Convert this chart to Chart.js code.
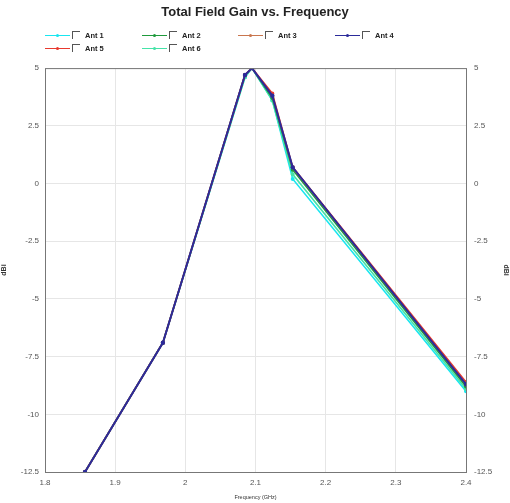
<!DOCTYPE html>
<html>
<head>
<meta charset="utf-8">
<script src="https://cdn.jsdelivr.net/npm/chart.js@4"></script>
<style>
  html, body { margin: 0; padding: 0; background: #fff; }
  #wrap { position: relative; width: 510px; height: 503px; }
  #chart { position: absolute; left: 0; top: 0; }
  .leg { position: absolute; height: 10px; font: bold 7.5px "Liberation Sans", Arial, sans-serif; color: #222; }
  .leg .ln { position: absolute; left: 0; top: 4px; width: 25px; height: 1px; }
  .leg .dot { position: absolute; left: 11px; top: 3px; width: 3px; height: 3px; border-radius: 50%; }
  .leg .box { position: absolute; left: 27px; top: 0px; width: 7px; height: 7px; border-left: 1px solid #555; border-top: 1px solid #555; }
  .leg .tx { position: absolute; left: 40px; top: 0px; white-space: nowrap; }
</style>
</head>
<body>
<div id="wrap">
  <canvas id="chart" width="510" height="503"></canvas>
  <div id="legend"></div>
</div>
<script>
// frequencies (GHz) at which the gain was sampled
const freqs = [1.857, 1.968, 2.085, 2.095, 2.124, 2.153, 2.4];

// total field gain per antenna (dBi)
const ant1 = [-12.5, -6.9, 4.6, 5.0, 3.6, 0.2, -9.0];
const ant2 = [-12.5, -6.9, 4.7, 5.0, 3.7, 0.6, -8.8];
const ant3 = [-12.5, -6.9, 4.7, 5.0, 3.8, 0.7, -8.7];
const ant4 = [-12.5, -6.9, 4.7, 5.0, 3.8, 0.7, -8.7];
const ant5 = [-12.5, -6.9, 4.7, 5.0, 3.9, 0.7, -8.6];
const ant6 = [-12.5, -6.9, 4.6, 5.0, 3.6, 0.4, -8.9];

const names = ['Ant 1', 'Ant 2', 'Ant 3', 'Ant 4', 'Ant 5', 'Ant 6'];
const colors = ['#19e6f0', '#1f9a3c', '#c9764e', '#2b2b9a', '#e8392e', '#45e3a8'];
const drawOrder = [5, 3, 2, 0, 1, 4]; // lower = drawn on top

const xTicks = ['1.8', '1.9', '2', '2.1', '2.2', '2.3', '2.4'];
const yTicks = ['5', '2.5', '0', '-2.5', '-5', '-7.5', '-10', '-12.5'];

const series = [ant1, ant2, ant3, ant4, ant5, ant6];

// html legend, laid out in fixed columns like the original
const legend = document.getElementById('legend');
const cols = [45, 142, 238, 335];
names.forEach((n, i) => {
    const d = document.createElement('div');
    d.className = 'leg';
    d.style.left = cols[i % 4] + 'px';
    d.style.top = (i < 4 ? 31 : 44) + 'px';
    d.innerHTML = `<span class="ln" style="background:${colors[i]}"></span>` +
        `<span class="dot" style="background:${colors[i]}"></span>` +
        `<span class="box"></span><span class="tx">${n}</span>`;
    legend.appendChild(d);
});

const frame = {
    id: 'frame',
    afterDraw(chart) {
        const { ctx, chartArea: a } = chart;
        ctx.save();
        ctx.strokeStyle = '#777';
        ctx.lineWidth = 1;
        ctx.strokeRect(a.left + 0.5, a.top + 0.5, a.right - a.left, a.bottom - a.top);
        ctx.restore();
    }
};

const tickFont = { family: 'Liberation Sans, Arial, sans-serif', size: 8 };
const titleFont = { family: 'Liberation Sans, Arial, sans-serif', size: 7, weight: 'bold' };

new Chart(document.getElementById('chart'), {
    type: 'line',
    data: {
        datasets: series.map((s, i) => ({
            label: names[i],
            data: s.map((v, j) => ({ x: freqs[j], y: v })),
            borderColor: colors[i],
            backgroundColor: colors[i],
            borderWidth: i === 3 ? 2 : 1.6,
            pointRadius: 1.2,
            pointHoverRadius: 1.2,
            order: drawOrder[i],
            tension: 0
        }))
    },
    options: {
        responsive: false,
        animation: false,
        layout: { padding: { left: 0, right: 0, top: 0, bottom: 0 } },
        plugins: {
            legend: { display: false },
            tooltip: { enabled: false },
            title: {
                display: true,
                text: 'Total Field Gain vs. Frequency',
                color: '#222',
                font: { family: 'Liberation Sans, Arial, sans-serif', size: 13, weight: 'bold' },
                padding: { top: 5, bottom: 47.5 }
            }
        },
        scales: {
            x: {
                type: 'linear',
                min: 1.8, max: 2.4,
                afterBuildTicks: s => { s.ticks = xTicks.map(t => ({ value: parseFloat(t) })); },
                ticks: { font: tickFont, color: '#555', padding: 6, maxRotation: 0,
                         callback: (v, i) => xTicks[i] },
                grid: { color: '#e6e6e6', drawTicks: false },
                border: { display: false },
                title: { display: true, text: 'Frequency (GHz)', font: { family: 'Liberation Sans, Arial, sans-serif', size: 5.5 }, color: '#333', padding: { top: 0, bottom: 2 } },
                afterFit: s => { s.height = 31; }
            },
            y: {
                position: 'left',
                min: -12.5, max: 5,
                afterBuildTicks: s => { s.ticks = yTicks.map(t => ({ value: parseFloat(t) })); },
                ticks: { font: tickFont, color: '#555', padding: 6, callback: (v, i) => yTicks[i] },
                grid: { color: '#e6e6e6', drawTicks: false },
                border: { display: false },
                title: { display: true, text: 'dBi', font: titleFont, color: '#333', padding: 0 },
                afterFit: s => { s.width = 45; }
            },
            y2: {
                position: 'right',
                min: -12.5, max: 5,
                afterBuildTicks: s => { s.ticks = yTicks.map(t => ({ value: parseFloat(t) })); },
                ticks: { font: tickFont, color: '#555', padding: 8, callback: (v, i) => yTicks[i] },
                grid: { display: false, drawTicks: false },
                border: { display: false },
                title: { display: true, text: 'dBi', font: titleFont, color: '#333', padding: 0 },
                afterFit: s => { s.width = 44; }
            }
        }
    },
    plugins: [frame]
});
</script>
</body>
</html>
